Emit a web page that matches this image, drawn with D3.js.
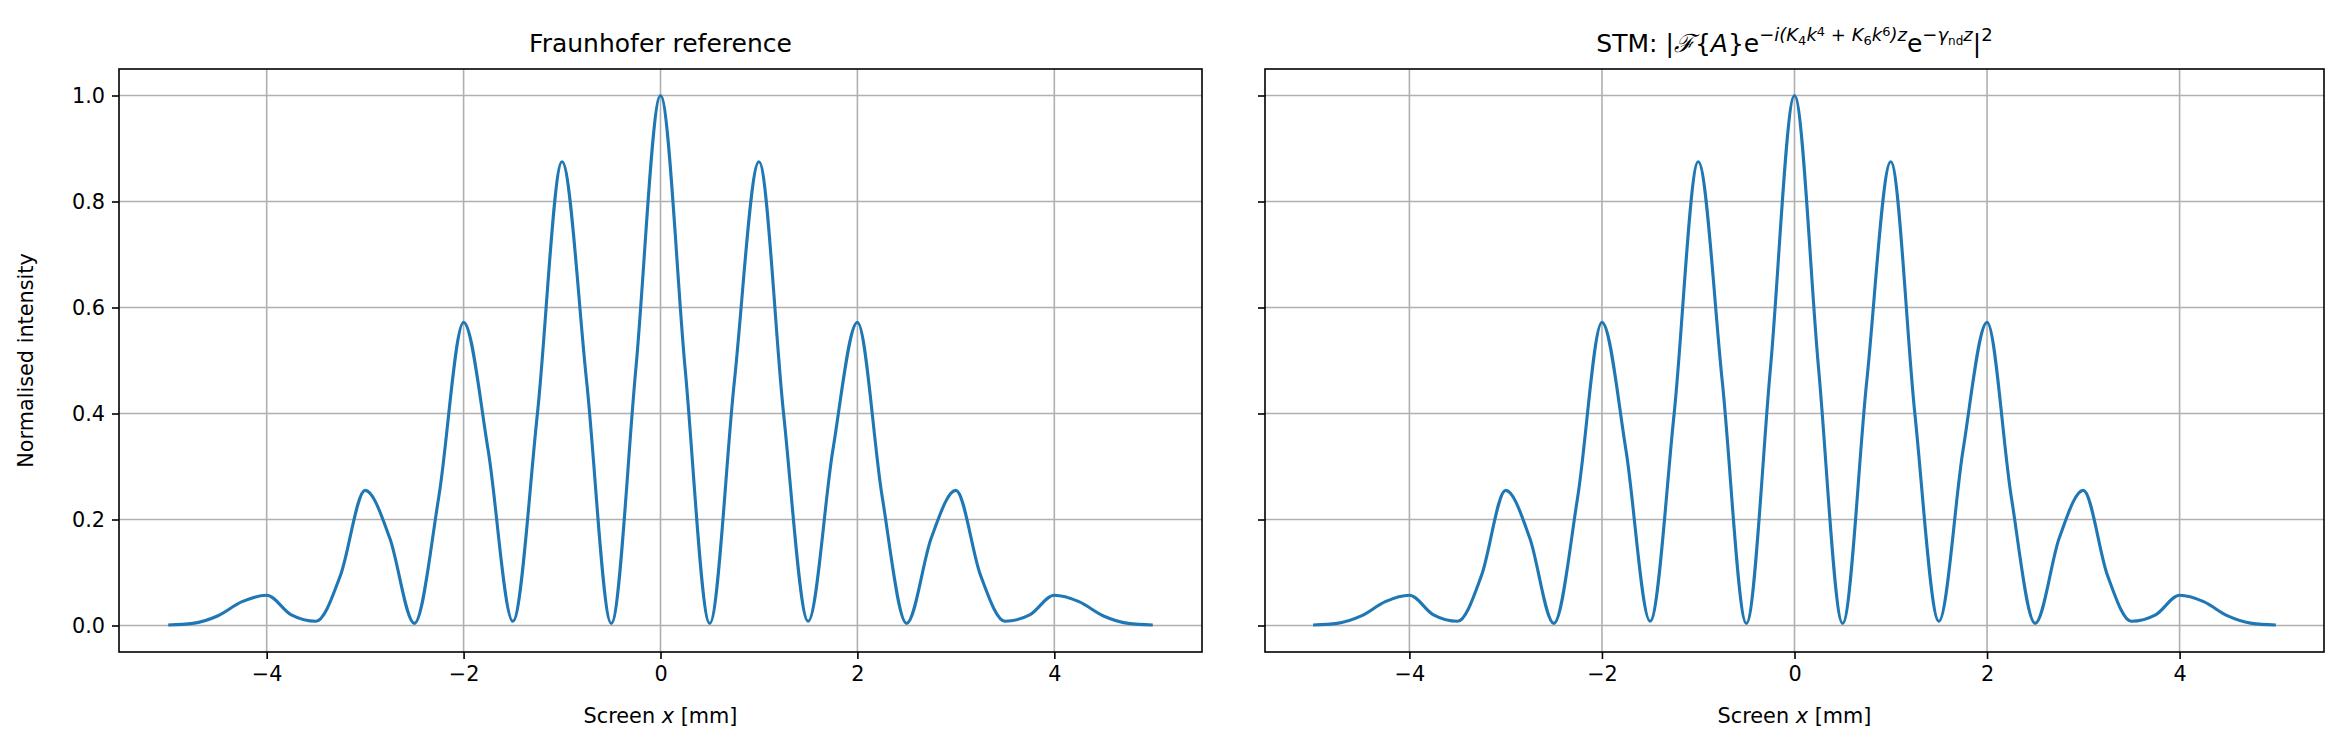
<!DOCTYPE html>
<html><head><meta charset="utf-8">
<script src="https://cdn.jsdelivr.net/npm/d3@7"></script>
<style>body{margin:0;background:#fff}svg{font-family:"DejaVu Sans",sans-serif}</style>
</head><body><svg id="c" width="2339" height="755"></svg>
<script>
const xs = [-5,-4.75,-4.5,-4.25,-4,-3.75,-3.5,-3.25,-3,-2.75,-2.5,-2.25,-2,-1.75,-1.5,-1.25,-1,-0.75,-0.5,-0.25,0,0.25,0.5,0.75,1,1.25,1.5,1.75,2,2.25,2.5,2.75,3,3.25,3.5,3.75,4,4.25,4.5,4.75,5];
const fraunhofer = [0.001,0.004,0.018,0.045,0.057,0.02,0.008,0.095,0.255,0.165,0.004,0.245,0.572,0.33,0.008,0.40,0.875,0.46,0.004,0.485,1.0,0.485,0.004,0.46,0.875,0.40,0.008,0.33,0.572,0.245,0.004,0.165,0.255,0.095,0.008,0.02,0.057,0.045,0.018,0.004,0.001];
const stm = [0.001,0.004,0.018,0.045,0.057,0.02,0.008,0.095,0.255,0.165,0.004,0.245,0.572,0.33,0.008,0.40,0.875,0.46,0.004,0.485,1.0,0.485,0.004,0.46,0.875,0.40,0.008,0.33,0.572,0.245,0.004,0.165,0.255,0.095,0.008,0.02,0.057,0.045,0.018,0.004,0.001];
const xTicks = [-4,-2,0,2,4];
const yTicks = [0,0.2,0.4,0.6,0.8,1.0];

const svg = d3.select("#c");
const T = 69, B = 652;
const panels = [
  {l:119, r:1202, data:fraunhofer, ylab:true, title:"fraun"},
  {l:1265, r:2324, data:stm, ylab:false, title:"stm"}
];
const y = d3.scaleLinear().domain([-0.05,1.05]).range([B,T]);
panels.forEach(p=>{
  const x = d3.scaleLinear().domain([-5.5,5.5]).range([p.l,p.r]);
  const g = svg.append("g");
  g.selectAll(".gx").data(xTicks).join("line").attr("x1",d=>x(d)).attr("x2",d=>x(d)).attr("y1",T).attr("y2",B).attr("stroke","#b0b0b0").attr("stroke-width",1.6);
  g.selectAll(".gy").data(yTicks).join("line").attr("y1",d=>y(d)).attr("y2",d=>y(d)).attr("x1",p.l).attr("x2",p.r).attr("stroke","#b0b0b0").attr("stroke-width",1.6);
  const line = d3.line().x((d,i)=>x(xs[i])).y(d=>y(d)).curve(d3.curveMonotoneX);
  g.append("path").attr("d",line(p.data)).attr("fill","none").attr("stroke","#1f77b4").attr("stroke-width",3.1).attr("stroke-linejoin","round");
  const ax = g.append("g").attr("transform",`translate(0,${B})`).call(d3.axisBottom(x).tickValues(xTicks).tickFormat(d=>d<0?"\u2212"+Math.abs(d):d).tickSize(7).tickPadding(7));
  const ay = g.append("g").attr("transform",`translate(${p.l},0)`).call(d3.axisLeft(y).tickValues(yTicks).tickFormat(d3.format(".1f")).tickSize(7).tickPadding(7));
  if(!p.ylab) ay.selectAll("text").remove();
  [ax,ay].forEach(a=>{a.select(".domain").remove();a.selectAll("line").attr("stroke","#000").attr("stroke-width",1.6);a.selectAll("text").attr("font-size",20.8).attr("fill","#000").attr("font-family","DejaVu Sans");});
  g.append("rect").attr("x",p.l).attr("y",T).attr("width",p.r-p.l).attr("height",B-T).attr("fill","none").attr("stroke","#000").attr("stroke-width",1.6);
  const xl = g.append("text").attr("x",(p.l+p.r)/2).attr("y",B+71).attr("text-anchor","middle").attr("font-size",20.8);
  xl.append("tspan").text("Screen  ");
  xl.append("tspan").attr("font-style","italic").text("x");
  xl.append("tspan").text("  [mm]");
  const t = g.append("text").attr("x",(p.l+p.r)/2).attr("y",T-17).attr("text-anchor","middle").attr("font-size",25);
  if(p.title==="fraun"){ t.text("Fraunhofer reference"); }
  else {
    t.append("tspan").text("STM:  |");
    t.append("tspan").attr("font-family","DejaVu Serif").attr("font-style","italic").text("\u2131");
    t.append("tspan").text("{");
    t.append("tspan").attr("font-style","italic").text("A");
    t.append("tspan").text("}e");
    t.append("tspan").attr("font-size",18).attr("dy",-11).attr("font-style","italic").text("\u2212i(K");
    t.append("tspan").attr("font-size",13).attr("dy",4).text("4");
    t.append("tspan").attr("font-size",18).attr("dy",-4).attr("font-style","italic").text("k");
    t.append("tspan").attr("font-size",13).attr("dy",-5).text("4");
    t.append("tspan").attr("font-size",18).attr("dy",5).text(" + ");
    t.append("tspan").attr("font-size",18).attr("font-style","italic").text("K");
    t.append("tspan").attr("font-size",13).attr("dy",4).text("6");
    t.append("tspan").attr("font-size",18).attr("dy",-4).attr("font-style","italic").text("k");
    t.append("tspan").attr("font-size",13).attr("dy",-5).text("6");
    t.append("tspan").attr("font-size",18).attr("dy",5).attr("font-style","italic").text(")z");
    t.append("tspan").attr("dy",11).text("e");
    t.append("tspan").attr("font-size",18).attr("dy",-11).attr("font-style","italic").text("\u2212\u03b3");
    t.append("tspan").attr("font-size",12).attr("dy",4).text("nd");
    t.append("tspan").attr("font-size",18).attr("dy",-4).attr("font-style","italic").text("z");
    t.append("tspan").attr("dy",11).text("|");
    t.append("tspan").attr("font-size",18).attr("dy",-11).text("2");
  }
});
svg.append("text").attr("transform",`translate(33,${(T+B)/2}) rotate(-90)`).attr("text-anchor","middle").attr("font-size",20.8).text("Normalised intensity");
</script></body></html>
